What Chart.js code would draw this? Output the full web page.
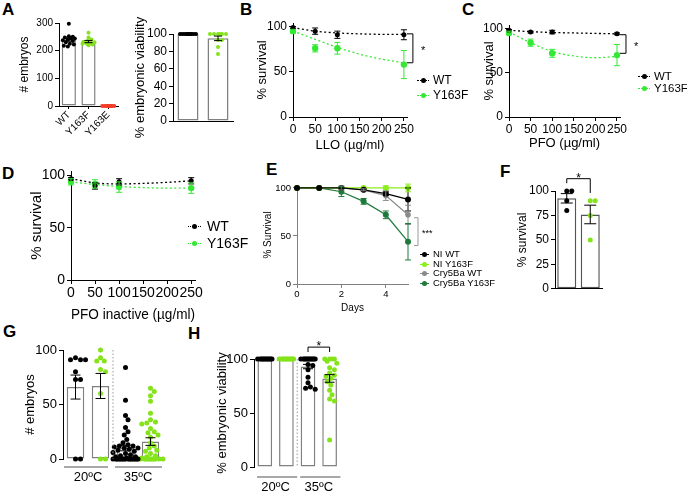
<!DOCTYPE html>
<html>
<head>
<meta charset="utf-8">
<title>Figure</title>
<script src="https://cdn.jsdelivr.net/npm/chart.js@4.4.1/dist/chart.umd.min.js"></script>
<style>
html,body{margin:0;padding:0;background:#fff;}
body{width:687px;height:495px;position:relative;overflow:hidden;font-family:"Liberation Sans",Arial,Helvetica,sans-serif;color:#000;}
.pl{position:absolute;font-weight:bold;font-size:17px;line-height:1;}
</style>
</head>
<body>
<div class="pl" style="left:2px;top:1px">A</div>
<div class="pl" style="left:240px;top:1px">B</div>
<div class="pl" style="left:462px;top:1px">C</div>
<div class="pl" style="left:2px;top:165px">D</div>
<div class="pl" style="left:266px;top:161px">E</div>
<div class="pl" style="left:500px;top:163px">F</div>
<div class="pl" style="left:3px;top:323px">G</div>
<div class="pl" style="left:188px;top:325px">H</div>
<script>
// ================= DATA =================
// Panel A
const aCats = ['WT', 'Y163F', 'Y163E'];
const aEmbMean = [240, 233, 0];
const aEmbSem = [6, 4, 0];
const aEmbWT = [297, 252, 250, 248, 245, 244, 240, 238, 235, 230, 225, 222, 218, 215];
const aEmbY163F = [265, 248, 240, 235, 232, 230, 228, 226, 225, 222, 220];
const aEmbY163E = [0, 0, 0, 0, 0, 0, 0, 0, 0, 0];
const aEmbTicks = [0, 100, 200, 300];
const aViaCats = ['WT', 'Y163F'];
const aViaMean = [100, 95];
const aViaSem = [0, 2.6];
const aViaWT = [100, 100, 100, 100, 100, 100, 100, 100, 100, 100, 100, 100];
const aViaY163F = [100, 100, 100, 100, 100, 100, 93, 93, 85, 77];
const aViaTicks = [0, 20, 40, 60, 80, 100];
// Panels B-D (dose response)
const seriesBD = ['WT', 'Y163F'];
const doseX = [0, 50, 100, 250];
const fitX = [0, 50, 100, 150, 200, 250];
const doseTicks = [0, 50, 100, 150, 200, 250];
const survTicks = [0, 50, 100];
const bWT = [99, 95, 91, 91];
const bWTErr = [1, 3.5, 4, 5.5];
const bY = [95, 76, 76, 58];
const bYErr = [2, 4, 6.5, 15.5];
const bWTFit = [99, 95, 93, 92, 91.5, 91.5];
const bYFit = [95, 86, 77, 69.5, 64, 60];
const cWT = [98, 96, 96, 94];
const cWTErr = [1, 1, 2, 1];
const cY = [95, 84, 72, 70];
const cYErr = [2, 4, 4.5, 12];
const cWTFit = [98, 96.5, 95.5, 95, 94.5, 94];
const cYFit = [96, 84, 74, 69, 67, 68.5];
const dWT = [97, 90, 94, 95];
const dWTErr = [1, 3, 3, 3];
const dY = [94, 92, 89, 88];
const dYErr = [3, 4, 5, 5];
const dWTFit = [97, 93, 92, 92.5, 93.5, 95];
const dYFit = [94, 91.5, 89.5, 88.5, 88, 88];
// Panel E
const eSeries = ['NI WT', 'NI Y163F', 'Cry5Ba WT', 'Cry5Ba Y163F'];
const eDays = [0, 1, 2, 3, 4, 5];
const eNIWT = [100, 100, 100, 98, 94, 88];
const eNIWTErr = [0, 0, 0, 1, 2, 12];
const eNIY = [100, 100, 100, 100, 100, 100];
const eNIYErr = [0, 0, 0, 0, 2, 4];
const eCryWT = [100, 100, 100, 98, 92, 72];
const eCryWTErr = [0, 0, 2, 1, 5, 10];
const eCryY = [100, 100, 96, 86, 72, 44];
const eCryYErr = [0, 0, 5, 3, 4, 19];
const eXTicks = [0, 2, 4];
const eYTicks = [0, 50, 100];
// Panel F
const fCats = ['WT', 'Y163F'];
const fMean = [92.5, 76];
const fSem = [4.8, 9.5];
const fWT = [100, 100, 90, 80];
const fY = [90, 90, 75, 50];
const fTicks = [0, 25, 50, 75, 100];
// Panel G
const ghCats = ['WT 20ºC', 'Y163F 20ºC', 'WT 35ºC', 'Y163F 35ºC'];
const ghGroups = ['20ºC', '35ºC'];
const gMean = [66, 67, 10, 16];
const gSem = [11, 11.5, 2.5, 3.5];
const gWT20 = [93, 91, 91, 91, 80, 73, 73, 0, 0];
const gY20 = [100, 93, 90, 90, 82, 80, 60, 0, 0];
const gWT35 = [84, 54, 40, 36, 29, 25, 22, 18, 15, 13, 12, 12, 11, 10, 10, 9, 8, 7, 6, 5, 4, 3, 2, 2, 1,
  0, 0, 0, 0, 0, 0, 0, 0, 0, 0, 0, 0, 0, 0, 0, 0, 0, 0, 0];
const gY35 = [65, 62, 58, 53, 42, 36, 34, 33, 32, 28, 25, 24, 22, 20, 15, 12, 10, 8, 7, 5, 3, 2, 1,
  0, 0, 0, 0, 0, 0, 0, 0, 0, 0, 0, 0, 0, 0];
const gTicks = [0, 50, 100];
// Panel H
const hMean = [100, 100, 93, 82];
const hSem = [0, 0, 2, 3.5];
const hWT20 = [100, 100, 100, 100, 100, 100, 100, 100, 100, 100, 100, 100];
const hY20 = [100, 100, 100, 100, 100, 100, 100, 100, 100, 100, 100, 100];
const hWT35 = [100, 100, 100, 100, 100, 100, 100, 100, 100, 100, 100, 100, 95, 94, 90, 83, 78, 74, 73, 72];
const hY35 = [100, 100, 100, 100, 98, 96, 92, 90, 87, 85, 84, 82, 79, 76, 71, 67, 63, 61, 25];
const hTicks = [0, 50, 100];

// ================= STYLE =================
const cBlack = '#000000', cGreen = '#84e31a', cRed = '#f23c2a', cLime = '#35e835';
const cGray = '#8a8a8a', cDark = '#1d7a3b', cLight = '#8aef1c';
const FONT = '"Liberation Sans", Arial, Helvetica, sans-serif';
Chart.defaults.font.family = FONT;
Chart.defaults.color = '#000';
Chart.defaults.animation = false;
Chart.defaults.responsive = false;
Chart.defaults.plugins.legend.display = false;
Chart.defaults.plugins.tooltip.enabled = false;

const errPlugin = {
  id: 'errbars',
  afterDatasetsDraw(chart) {
    const ctx = chart.ctx;
    chart.data.datasets.forEach((ds, di) => {
      if (!ds.errors) return;
      const meta = chart.getDatasetMeta(di);
      const ys = chart.scales[meta.yAxisID];
      ctx.save();
      ctx.strokeStyle = ds.errColor || '#000';
      ctx.lineWidth = ds.errWidth || 1;
      meta.data.forEach((el, i) => {
        const e = ds.errors[i];
        if (!e) return;
        const d = ds.data[i];
        const v = typeof d === 'object' ? d.y : d;
        const x = el.x, yt = ys.getPixelForValue(v + e), yb = ys.getPixelForValue(v - e);
        const cw = ds.capW || 3;
        ctx.beginPath();
        ctx.moveTo(x, yt); ctx.lineTo(x, yb);
        ctx.moveTo(x - cw, yt); ctx.lineTo(x + cw, yt);
        ctx.moveTo(x - cw, yb); ctx.lineTo(x + cw, yb);
        ctx.stroke();
      });
      ctx.restore();
    });
  }
};

const marksPlugin = {
  id: 'marks',
  afterDraw(chart, args, o) {
    const ctx = chart.ctx, ys = chart.scales.y, xs = chart.scales.x, ca = chart.chartArea;
    ctx.save();
    (o.seps || []).forEach(s => {
      const px = (xs.getPixelForValue(s) + xs.getPixelForValue(s + 1)) / 2;
      ctx.strokeStyle = '#9a9a9a'; ctx.lineWidth = 1; ctx.setLineDash([1.5, 2]);
      ctx.beginPath(); ctx.moveTo(px, ca.top); ctx.lineTo(px, ca.bottom); ctx.stroke();
      ctx.setLineDash([]);
    });
    (o.groups || []).forEach(g => {
      const w = xs.getPixelForValue(1) - xs.getPixelForValue(0);
      const x1 = xs.getPixelForValue(g.a) - w / 2 + g.in1, x2 = xs.getPixelForValue(g.b) + w / 2 - g.in2;
      ctx.strokeStyle = '#a8a8a8'; ctx.lineWidth = 2;
      ctx.beginPath(); ctx.moveTo(x1, ca.bottom + g.dy); ctx.lineTo(x2, ca.bottom + g.dy); ctx.stroke();
    });
    (o.vbr || []).forEach(b => {
      const px = xs.getPixelForValue(b.x) + b.off;
      const y1 = ys.getPixelForValue(b.y1), y2 = ys.getPixelForValue(b.y2);
      ctx.strokeStyle = b.color || '#000'; ctx.lineWidth = 1;
      ctx.beginPath(); ctx.moveTo(px - b.arm, y1); ctx.lineTo(px, y1); ctx.lineTo(px, y2); ctx.lineTo(px - b.arm, y2); ctx.stroke();
      ctx.fillStyle = '#000'; ctx.font = b.font; ctx.textAlign = 'left'; ctx.textBaseline = 'middle';
      ctx.fillText(b.text, px + b.tx, (y1 + y2) / 2 + (b.ty || 0));
    });
    (o.hbr || []).forEach(b => {
      const x1 = xs.getPixelForValue(b.i1), x2 = xs.getPixelForValue(b.i2);
      const y = ys.getPixelForValue(b.y), l1 = ys.getPixelForValue(b.l1), l2 = ys.getPixelForValue(b.l2);
      ctx.strokeStyle = '#000'; ctx.lineWidth = 1;
      ctx.beginPath(); ctx.moveTo(x1, l1); ctx.lineTo(x1, y); ctx.lineTo(x2, y); ctx.lineTo(x2, l2); ctx.stroke();
      ctx.fillStyle = '#000'; ctx.font = b.font; ctx.textAlign = 'center'; ctx.textBaseline = 'bottom';
      ctx.fillText(b.text, (x1 + x2) / 2, y + (b.ty || 0));
    });
    ctx.restore();
  }
};
Chart.register(errPlugin, marksPlugin);

// ================= HELPERS =================
function mk(area, m) {
  const left = area.x0 - m.yW, top = area.y0 - m.pt;
  const w = Math.round(area.x1 + m.pr - left), h = Math.round(area.y1 + m.xH + m.pb - top);
  const c = document.createElement('canvas');
  c.width = w; c.height = h;
  c.style.cssText = 'position:absolute;left:' + left + 'px;top:' + top + 'px;width:' + w + 'px;height:' + h + 'px;';
  document.body.appendChild(c);
  return c;
}
function lay(m) { return { autoPadding: false, padding: { left: 0, top: m.pt, right: m.pr, bottom: m.pb } }; }

function yAx(m, max, ticks, fs, title, tfs, tpad, color) {
  color = color || '#000';
  return {
    type: 'linear', position: 'left', min: 0, max: max, bounds: 'data',
    afterDataLimits: s => { s.min = 0; s.max = max; },
    afterBuildTicks: s => { s.ticks = ticks.map(v => ({ value: v })); },
    afterFit: s => { s.width = m.yW; },
    grid: { drawOnChartArea: false, drawTicks: true, tickLength: 4, color: color, lineWidth: 1 },
    border: { display: true, color: color, width: 1 },
    ticks: { font: { size: fs }, color: '#000', padding: 2, autoSkip: false },
    title: { display: !!title, text: title, font: { size: tfs }, color: '#000', padding: { top: tpad, bottom: 0 } }
  };
}
function xLin(m, max, ticks, fs, title, tfs, tpad, color) {
  color = color || '#000';
  return {
    type: 'linear', position: 'bottom', min: 0, max: max, bounds: 'data',
    afterDataLimits: s => { s.min = 0; s.max = max; },
    afterBuildTicks: s => { s.ticks = ticks.map(v => ({ value: v })); },
    afterFit: s => { s.height = m.xH; },
    grid: { drawOnChartArea: false, drawTicks: true, tickLength: 4, color: color },
    border: { display: true, color: color, width: 1 },
    ticks: { font: { size: fs }, color: '#000', padding: 1, autoSkip: false, maxRotation: 0, minRotation: 0 },
    title: { display: true, text: title, font: { size: tfs }, color: '#000', padding: { top: 0, bottom: tpad } }
  };
}

// deterministic beeswarm: returns offsets (in category units) for each value
function swarm(vals, pyu, cell, r, maxHalf) {
  const d = 2 * r * 0.92, step = r * 0.5;
  const placed = [], out = [];
  vals.slice().sort((a, b) => b - a).forEach(v => {
    const py = v * pyu;
    let best = 0, bestScore = -1;
    for (let k = 0; k < 80; k++) {
      const off = (k % 2 ? 1 : -1) * Math.ceil(k / 2) * step;
      if (Math.abs(off) > maxHalf) continue;
      let minD = Infinity;
      placed.forEach(p => { const dd = Math.hypot(p.x - off, p.y - py); if (dd < minD) minD = dd; });
      if (minD >= d) { best = off; bestScore = Infinity; break; }
      if (minD > bestScore + 0.01) { bestScore = minD; best = off; }
    }
    placed.push({ x: best, y: py });
    out.push({ x: best / cell, y: v });
  });
  return out;
}

function barPanel(p) {
  const cv = mk(p.area, p.m);
  const n = p.cats.length;
  const cell = (p.area.x1 - p.area.x0) / n;
  const pyu = (p.area.y1 - p.area.y0) / p.ymax;
  const idx = p.cats.map((c, i) => i);
  const ds = [{
    type: 'bar', label: 'mean', data: p.mean.map((v, i) => ({ x: i, y: v })), xAxisID: 'x', yAxisID: 'y',
    backgroundColor: '#ffffff', borderColor: p.barColor || '#808080', borderWidth: 1.5, borderSkipped: false,
    barPercentage: p.barPct, categoryPercentage: 1, grouped: false, order: 2,
    errors: p.sem, errColor: '#000', capW: p.capW || 4
  }];
  p.dots.forEach((g, i) => {
    const pts = swarm(g.v, pyu, cell, p.r, p.maxHalf);
    ds.push({
      type: 'scatter', label: p.cats[i], xAxisID: 'x', yAxisID: 'y', data: pts.map(q => ({ x: i + q.x, y: q.y })),
      pointRadius: p.r, backgroundColor: g.c, borderWidth: 0, pointBorderWidth: 0, order: 1, clip: false
    });
  });
  const m = p.m;
  const xs = {
    type: 'linear', position: 'bottom', offset: false, bounds: 'data', min: -0.5, max: n - 0.5,
    afterDataLimits: s => { s.min = -0.5; s.max = n - 0.5; },
    afterBuildTicks: s => { s.ticks = idx.map(v => ({ value: v })); },
    afterFit: s => { s.height = p.xMode === 'labels' ? m.xH : 0; },
    display: p.xMode !== 'none',
    grid: { display: p.xMode === 'labels', drawOnChartArea: false, drawTicks: true, tickLength: 3, offset: false, color: '#000' },
    border: { display: true, color: '#000', width: 1 },
    ticks: {
      display: p.xMode === 'labels', font: { size: p.xfs || 10 }, color: '#000', minRotation: 45, maxRotation: 45,
      autoSkip: false, padding: 0, callback: v => p.cats[v]
    }
  };
  const scales = { x: xs, y: yAx(m, p.ymax, p.yticks, p.fs, p.title, p.tfs, p.tpad) };
  if (p.groups) {
    scales.xg = {
      type: 'category', labels: p.groups, offset: true, position: 'bottom',
      afterFit: s => { s.height = m.xH; },
      grid: { display: false, drawTicks: false }, border: { display: false },
      ticks: { font: { size: p.gfs }, color: '#000', padding: p.gpad, autoSkip: false, maxRotation: 0 }
    };
  }
  new Chart(cv, {
    type: 'bar',
    data: { datasets: ds },
    options: { devicePixelRatio: 1, layout: lay(m), scales: scales, plugins: { marks: p.marks || {} } }
  });
}

function linePanel(p) {
  const cv = mk(p.area, p.m);
  const ds = [];
  p.series.forEach(s => ds.push({
    label: s.name, data: s.x.map((x, i) => ({ x: x, y: s.y[i] })), showLine: !!s.line,
    borderColor: s.c, backgroundColor: s.c, borderWidth: 1.2, pointRadius: s.r, pointBorderWidth: 0,
    errors: s.err, errColor: s.c, capW: 3, clip: false, tension: 0
  }));
  (p.fits || []).forEach(f => ds.push({
    label: 'fit', data: f.x.map((x, i) => ({ x: x, y: f.y[i] })), showLine: true, borderColor: f.c,
    borderWidth: 1.3, borderDash: [2, 2.5], pointRadius: 0, cubicInterpolationMode: 'monotone', clip: false
  }));
  const m = p.m;
  new Chart(cv, {
    type: 'scatter',
    data: { datasets: ds },
    options: {
      devicePixelRatio: 1, layout: lay(m),
      scales: {
        x: xLin(m, p.xmax, p.xticks, p.fs, p.xtitle, p.xtfs, p.xtpad, p.axColor),
        y: yAx(m, p.ymax, p.yticks, p.fs, p.ytitle, p.ytfs, p.ytpad, p.axColor)
      },
      plugins: { marks: p.marks || {} }
    }
  });
}

function legend(x, y, names, colors, fs, rowH, dotted, mw, dr, gap) {
  const d = document.createElement('div');
  d.style.cssText = 'position:absolute;left:' + x + 'px;top:' + y + 'px;font-size:' + fs + 'px;line-height:' + rowH + 'px;white-space:nowrap;';
  names.forEach((name, i) => {
    const c = colors[i];
    const row = document.createElement('div');
    row.style.cssText = 'height:' + rowH + 'px;position:relative;padding-left:' + (mw + gap) + 'px;';
    const ln = document.createElement('span');
    ln.style.cssText = 'position:absolute;left:0;top:' + (rowH / 2) + 'px;width:' + mw + 'px;border-top:1px ' + (dotted ? 'dotted' : 'solid') + ' ' + c + ';';
    const dt = document.createElement('span');
    dt.style.cssText = 'position:absolute;left:' + (mw / 2 - dr) + 'px;top:' + (rowH / 2 - dr + 0.5) + 'px;width:' + (2 * dr) + 'px;height:' + (2 * dr) + 'px;border-radius:50%;background:' + c + ';';
    row.appendChild(ln); row.appendChild(dt);
    row.appendChild(document.createTextNode(name));
    d.appendChild(row);
  });
  document.body.appendChild(d);
}

// ================= PANELS =================
// A left
barPanel({
  area: { x0: 59, x1: 118, y0: 23, y1: 106 }, m: { yW: 59, xH: 39, pt: 10, pr: 2, pb: 0 },
  cats: aCats, mean: aEmbMean, sem: aEmbSem,
  dots: [{ v: aEmbWT, c: cBlack }, { v: aEmbY163F, c: cGreen }, { v: aEmbY163E, c: cRed }],
  r: 2, maxHalf: 6, ymax: 300, yticks: aEmbTicks, fs: 10, title: '# embryos', tfs: 12, tpad: 17.8,
  barPct: 0.72, xMode: 'labels', xfs: 10, capW: 4
});
// A right
barPanel({
  area: { x0: 173, x1: 233, y0: 34, y1: 121 }, m: { yW: 48, xH: 0, pt: 22, pr: 2, pb: 22 },
  cats: aViaCats, mean: aViaMean, sem: aViaSem,
  dots: [{ v: aViaWT, c: cBlack }, { v: aViaY163F, c: cGreen }],
  r: 2, maxHalf: 8, ymax: 100, yticks: aViaTicks, fs: 12, title: '% embryonic viability', tfs: 13, tpad: 7.2,
  barPct: 0.7, xMode: 'line', capW: 4
});
// B
linePanel({
  area: { x0: 293, x1: 407, y0: 23, y1: 117 }, m: { yW: 50, xH: 38, pt: 10, pr: 25, pb: 0 },
  xmax: 257, ymax: 104, xticks: doseTicks, yticks: survTicks, fs: 12,
  xtitle: 'LLO (µg/ml)', xtfs: 13, xtpad: 2.2, ytitle: '% survival', ytfs: 13, ytpad: 11.2,
  series: [
    { name: seriesBD[0], x: doseX, y: bWT, err: bWTErr, c: cBlack, r: 2.5 },
    { name: seriesBD[1], x: doseX, y: bY, err: bYErr, c: cLime, r: 3.2 }
  ],
  fits: [{ x: fitX, y: bWTFit, c: cBlack }, { x: fitX, y: bYFit, c: cLime }],
  marks: { vbr: [{ x: 250, off: 9, arm: 6, y1: 92, y2: 60, text: '*', font: '11px ' + FONT, tx: 8, ty: 3 }] }
});
legend(417, 72.5, seriesBD, [cBlack, cLime], 12, 15, true, 12, 2.5, 4);
// C
linePanel({
  area: { x0: 509, x1: 620, y0: 25, y1: 117 }, m: { yW: 39, xH: 36, pt: 10, pr: 25, pb: 0 },
  xmax: 257, ymax: 104, xticks: doseTicks, yticks: survTicks, fs: 12,
  xtitle: 'PFO (µg/ml)', xtfs: 13, xtpad: 2.2, ytitle: '% survival', ytfs: 13, ytpad: 12,
  series: [
    { name: seriesBD[0], x: doseX, y: cWT, err: cWTErr, c: cBlack, r: 2.5 },
    { name: seriesBD[1], x: doseX, y: cY, err: cYErr, c: cLime, r: 3.2 }
  ],
  fits: [{ x: fitX, y: cWTFit, c: cBlack }, { x: fitX, y: cYFit, c: cLime }],
  marks: { vbr: [{ x: 250, off: 9, arm: 6, y1: 93, y2: 72, text: '*', font: '11px ' + FONT, tx: 8, ty: 3 }] }
});
legend(638, 70, seriesBD, [cBlack, cLime], 11.5, 12, true, 12, 2.5, 4);
// D
linePanel({
  area: { x0: 71, x1: 200, y0: 171, y1: 280 }, m: { yW: 61, xH: 46, pt: 10, pr: 4, pb: 2 },
  xmax: 258, ymax: 104, xticks: doseTicks, yticks: survTicks, fs: 14,
  xtitle: 'PFO inactive (µg/ml)', xtfs: 14, xtpad: 2, ytitle: '% survival', ytfs: 15, ytpad: 18,
  series: [
    { name: seriesBD[0], x: doseX, y: dWT, err: dWTErr, c: cBlack, r: 2.5 },
    { name: seriesBD[1], x: doseX, y: dY, err: dYErr, c: cLime, r: 3.2 }
  ],
  fits: [{ x: fitX, y: dWTFit, c: cBlack }, { x: fitX, y: dYFit, c: cLime }]
});
legend(188, 217.5, seriesBD, [cBlack, cLime], 14, 17, true, 13, 2.5, 6);
// E
linePanel({
  area: { x0: 297, x1: 408, y0: 186, y1: 284 }, m: { yW: 39, xH: 32, pt: 8, pr: 30, pb: 0 },
  xmax: 5, ymax: 102, xticks: eXTicks, yticks: eYTicks, fs: 9.5, axColor: '#808080',
  xtitle: 'Days', xtfs: 10, xtpad: 2, ytitle: '% Survival', ytfs: 10, ytpad: 4,
  series: [
    { name: eSeries[0], x: eDays, y: eNIWT, err: eNIWTErr, c: cBlack, r: 3, line: true },
    { name: eSeries[1], x: eDays, y: eNIY, err: eNIYErr, c: cLight, r: 3, line: true },
    { name: eSeries[2], x: eDays, y: eCryWT, err: eCryWTErr, c: cGray, r: 2.8, line: true },
    { name: eSeries[3], x: eDays, y: eCryY, err: eCryYErr, c: cDark, r: 3, line: true }
  ],
  marks: { vbr: [{ x: 5, off: 10, arm: 4, y1: 69, y2: 40, text: '***', font: '9px ' + FONT, tx: 4, ty: 2, color: '#999' }] }
});
legend(420, 249.25, eSeries, [cBlack, cLight, cGray, cDark], 9.5, 9.5, false, 9, 2.5, 4);
// F
barPanel({
  area: { x0: 555, x1: 602, y0: 191, y1: 294 }, m: { yW: 45, xH: 0, pt: 31, pr: 2, pb: 4 },
  cats: fCats, mean: fMean, sem: fSem,
  dots: [{ v: fWT, c: cBlack }, { v: fY, c: cGreen }],
  r: 2.5, maxHalf: 6, ymax: 100, yticks: fTicks, fs: 12, title: '% survival', tfs: 12, tpad: 5.8,
  barPct: 0.81, xMode: 'line', barColor: '#555', capW: 6,
  marks: { hbr: [{ i1: 0, i2: 1, y: 112.6, l1: 108, l2: 98, text: '*', font: '12px ' + FONT, ty: 6 }] }
});
// G
barPanel({
  area: { x0: 63, x1: 163, y0: 350, y1: 459 }, m: { yW: 58, xH: 31, pt: 12, pr: 4, pb: 0 },
  cats: ghCats, mean: gMean, sem: gSem,
  dots: [{ v: gWT20, c: cBlack }, { v: gY20, c: cGreen }, { v: gWT35, c: cBlack }, { v: gY35, c: cGreen }],
  r: 2.5, maxHalf: 13, ymax: 100, yticks: gTicks, fs: 13, title: '# embryos', tfs: 13, tpad: 17.2,
  barPct: 0.7, xMode: 'none', capW: 5, groups: ghGroups, gfs: 13, gpad: 11,
  marks: { seps: [1], groups: [{ a: 0, b: 1, in1: 1, in2: 5, dy: 8 }, { a: 2, b: 3, in1: 2, in2: 1, dy: 8 }] }
});
// H
barPanel({
  area: { x0: 254, x1: 344, y0: 359, y1: 467 }, m: { yW: 54, xH: 28, pt: 29, pr: 4, pb: 0 },
  cats: ghCats, mean: hMean, sem: hSem,
  dots: [{ v: hWT20, c: cBlack }, { v: hY20, c: cGreen }, { v: hWT35, c: cBlack }, { v: hY35, c: cGreen }],
  r: 2.5, maxHalf: 8, ymax: 100, yticks: hTicks, fs: 13, title: '% embryonic viability', tfs: 13, tpad: 14.2,
  barPct: 0.68, xMode: 'none', capW: 5, groups: ghGroups, gfs: 13, gpad: 13,
  marks: {
    seps: [1], groups: [{ a: 0, b: 1, in1: 3, in2: 0, dy: 10 }, { a: 2, b: 3, in1: 3, in2: 0, dy: 10 }],
    hbr: [{ i1: 2, i2: 3, y: 111, l1: 106.5, l2: 106.5, text: '*', font: '12px ' + FONT, ty: 6 }]
  }
});
</script>
</body>
</html>
